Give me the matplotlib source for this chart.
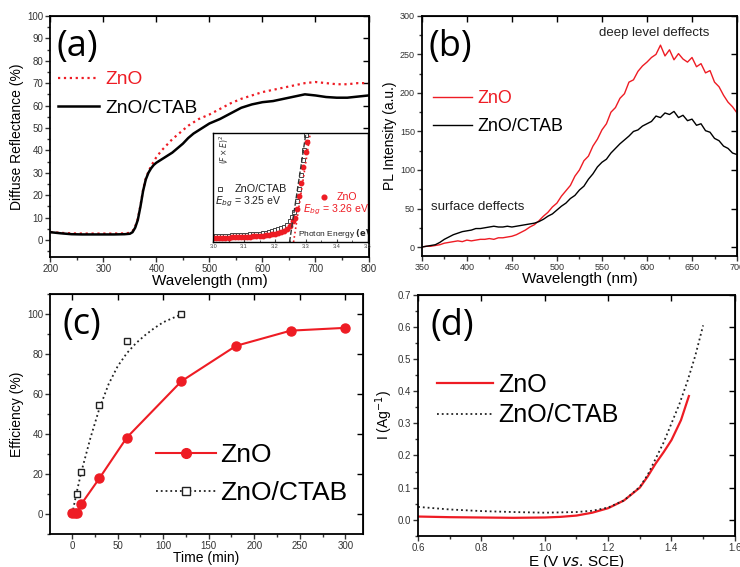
import numpy as np
import matplotlib
matplotlib.use("Agg")
import matplotlib.pyplot as plt
from matplotlib.ticker import MultipleLocator

plt.rcParams["font.family"] = ["Liberation Sans", "DejaVu Sans"]

# ---------------- (a) diffuse reflectance ----------------
wl_a = [200, 220, 240, 260, 280, 300, 320, 340, 350, 355, 360, 365, 370, 375, 380,
        385, 390, 395, 400, 410, 420, 430, 440, 450, 460, 470, 480, 490, 500, 520,
        540, 560, 580, 600, 620, 640, 660, 680, 700, 720, 740, 760, 780, 800]
refl_zno = [3.6, 3.2, 3.0, 2.9, 2.9, 2.9, 2.9, 3.0, 3.2, 4.0, 6.0, 9.5, 15.5, 22.5, 27.5,
            30.5, 33.0, 35.0, 37.0, 40.0, 42.5, 45.0, 47.0, 49.0, 51.0, 52.5, 54.0, 55.0, 56.0, 58.5,
            61.0, 63.0, 64.5, 66.0, 67.0, 68.0, 69.0, 70.0, 70.5, 70.0, 69.5, 69.5, 70.0, 70.0]
refl_ctab = [3.5, 3.0, 2.6, 2.5, 2.5, 2.5, 2.5, 2.6, 2.8, 3.5, 5.5, 9.0, 15.0, 22.0, 27.0,
             30.0, 32.0, 33.5, 34.5, 36.0, 37.5, 39.0, 41.0, 43.0, 45.5, 47.5, 49.0, 50.5, 52.0, 54.0,
             56.5, 59.0, 60.5, 61.5, 62.0, 63.0, 64.0, 65.0, 64.5, 63.8, 63.5, 63.5, 64.0, 64.5]

# inset: Tauc plot
e_ctab = [3.00, 3.01, 3.02, 3.03, 3.04, 3.05, 3.06, 3.07, 3.08, 3.09, 3.10, 3.11, 3.12, 3.13,
          3.14, 3.15, 3.16, 3.17, 3.18, 3.19, 3.20, 3.21, 3.22, 3.23, 3.24, 3.25, 3.255, 3.262,
          3.27, 3.277, 3.283, 3.29, 3.295, 3.30]
f_ctab = [0.055, 0.056, 0.057, 0.058, 0.059, 0.060, 0.061, 0.062, 0.063, 0.065, 0.067, 0.069, 0.071, 0.073,
          0.076, 0.079, 0.083, 0.087, 0.092, 0.099, 0.107, 0.117, 0.128, 0.142, 0.160, 0.195, 0.23, 0.28,
          0.38, 0.49, 0.62, 0.75, 0.85, 0.98]
e_zno = [3.00, 3.01, 3.02, 3.03, 3.04, 3.05, 3.06, 3.07, 3.08, 3.09, 3.10, 3.11, 3.12, 3.13,
         3.14, 3.15, 3.16, 3.17, 3.18, 3.19, 3.20, 3.21, 3.22, 3.23, 3.24, 3.25, 3.258, 3.265,
         3.272, 3.278, 3.285, 3.29, 3.30, 3.305]
f_zno = [0.037, 0.038, 0.039, 0.040, 0.041, 0.042, 0.043, 0.044, 0.045, 0.046, 0.046, 0.048, 0.050, 0.052,
         0.054, 0.056, 0.059, 0.062, 0.066, 0.071, 0.076, 0.083, 0.091, 0.101, 0.120, 0.150, 0.19, 0.22,
         0.30, 0.42, 0.54, 0.69, 0.83, 0.92]
fit_ctab_x = [3.247, 3.300]
fit_zno_x = [3.260, 3.314]
fit_y = [0.0, 1.0]

# ---------------- (b) photoluminescence ----------------
wl_b = list(range(350, 701, 5))
pl_zno = [0, 1, 1, 2, 3, 5, 6, 7, 8, 7, 9, 8, 9, 10, 10, 11, 10, 12, 12, 13,
          14, 16, 19, 22, 26, 29, 34, 40, 45, 52, 57, 66, 73, 80, 92, 100, 112, 118, 131, 140,
          152, 160, 175, 181, 193, 199, 214, 217, 228, 235, 240, 246, 250, 262, 248, 256, 243, 251, 244, 240,
          246, 234, 238, 226, 229, 214, 208, 197, 188, 182, 174]
pl_ctab = [0, 1, 2, 3, 6, 10, 13, 16, 18, 20, 21, 22, 24, 24, 25, 26, 27, 26, 26, 27,
           26, 27, 28, 29, 30, 31, 33, 36, 40, 43, 48, 53, 57, 63, 67, 74, 79, 88, 95, 104,
           110, 114, 122, 128, 134, 139, 144, 150, 152, 157, 160, 163, 170, 168, 174, 172, 176, 168, 171, 164,
           166, 158, 160, 151, 149, 141, 138, 131, 128, 122, 120]

# ---------------- (c) degradation efficiency ----------------
t_zno = [0, 3, 5, 10, 30, 60, 120, 180, 240, 300]
eff_zno = [0.5, 0.5, 0.5, 5, 18, 38.3, 66.5, 84.2, 91.8, 93.2]
t_ctab = [0, 2, 5, 10, 30, 60, 120]
eff_ctab = [0.5, 0.5, 10.2, 21.3, 54.5, 86.5, 100]
t_ctab_fit = [0, 5, 10, 20, 30, 40, 50, 60, 70, 80, 90, 100, 110, 120]
eff_ctab_fit = [0, 11, 21, 38, 53, 65, 74, 80.5, 85.5, 89.5, 93, 96, 98, 100]

# ---------------- (d) linear sweep ----------------
e_d_zno = [0.6, 0.7, 0.8, 0.9, 1.0, 1.05, 1.1, 1.15, 1.2, 1.25, 1.3, 1.325, 1.35, 1.375,
           1.4, 1.43, 1.455]
i_d_zno = [0.010, 0.008, 0.007, 0.006, 0.007, 0.009, 0.013, 0.022, 0.036, 0.060, 0.100, 0.135, 0.175, 0.210,
           0.248, 0.310, 0.385]
e_d_ctab = [0.6, 0.7, 0.8, 0.9, 1.0, 1.1, 1.15, 1.2, 1.25, 1.3, 1.325, 1.35, 1.375, 1.4,
            1.425, 1.45, 1.475, 1.5]
i_d_ctab = [0.040, 0.032, 0.027, 0.024, 0.022, 0.024, 0.028, 0.038, 0.060, 0.102, 0.140, 0.190, 0.240, 0.300,
            0.360, 0.430, 0.510, 0.605]

RED = "#ee1c24"


def style_axes(ax, fs=7):
    for s in ax.spines.values():
        s.set_linewidth(1.3)
    ax.tick_params(which="both", direction="out", labelsize=fs, colors="#333333",
                   width=1.0, pad=1.5)
    ax.tick_params(which="major", length=3.5)
    ax.tick_params(which="minor", length=2)
    ax.tick_params(which="both", top=False, right=False)
    ax2 = ax.secondary_xaxis("top")
    ax2.tick_params(direction="in", length=4, labeltop=False, width=1.0)
    ax2.set_xticks(ax.get_xticks())
    ax3 = ax.secondary_yaxis("right")
    ax3.tick_params(direction="in", length=4, labelright=False, width=1.0)
    ax3.set_yticks(ax.get_yticks())


fig = plt.figure(figsize=(7.4, 5.67), dpi=100)

# ---- (a)
ax = fig.add_axes([0.068, 0.547, 0.430, 0.425])
ax.plot(wl_a, refl_zno, ":", color=RED, lw=1.6, label="ZnO")
ax.plot(wl_a, refl_ctab, "-", color="black", lw=1.8, label="ZnO/CTAB")
ax.set_xlim(200, 800)
ax.set_ylim(-7.5, 100)
ax.set_xticks(np.arange(200, 801, 100))
ax.set_yticks(np.arange(0, 101, 10))
ax.xaxis.set_minor_locator(MultipleLocator(50))
ax.yaxis.set_minor_locator(MultipleLocator(5))
style_axes(ax)
ax.set_xlabel("Wavelength (nm)", fontsize=11, labelpad=0)
ax.set_ylabel("Diffuse Reflectance (%)", fontsize=10, labelpad=2)
ax.text(0.02, 0.835, "(a)", transform=ax.transAxes, fontsize=26, family="Open Sans")
ax.legend(loc="upper left", bbox_to_anchor=(0.025, 0.772), frameon=False, fontsize=13.8,
          handlelength=2.1, handletextpad=0.35, labelspacing=0.6, borderpad=0,
          borderaxespad=0, labelcolor="linecolor")

ins = fig.add_axes([0.288, 0.573, 0.209, 0.192])
ins.plot(e_ctab, f_ctab, "s", ms=3, mfc="white", mec="#444444", mew=0.7)
ins.plot(e_zno, f_zno, "o", ms=3.2, color=RED, mec=RED)
ins.plot(fit_ctab_x, fit_y, "--", color="#333333", lw=1.0)
ins.plot(fit_zno_x, fit_y, ":", color=RED, lw=1.2)
ins.set_xlim(3.0, 3.5)
ins.set_ylim(0, 1)
ins.set_xticks(np.arange(3.0, 3.51, 0.1))
ins.set_xticklabels(["3.0", "3.1", "3.2", "3.3", "3.4", "3.5"])
ins.xaxis.set_minor_locator(MultipleLocator(0.05))
ins.set_yticks([])
for s in ins.spines.values():
    s.set_linewidth(1.0)
ins.tick_params(which="both", direction="in", labelsize=4, colors="#444444", pad=1.5)
ins.tick_params(which="major", length=2.5)
ins.tick_params(which="minor", length=1.5)
ins.plot([3.023], [0.49], "s", ms=3, mfc="white", mec="#444444", mew=0.7)
ins.text(3.07, 0.49, "ZnO/CTAB", fontsize=7.8, va="center", color="#222222")
ins.text(3.005, 0.37, r"$E_{bg}$ = 3.25 eV", fontsize=7.6, va="center", color="#222222")
ins.plot([3.357], [0.41], "o", ms=3.4, color=RED)
ins.text(3.40, 0.41, "ZnO", fontsize=7.6, va="center", color=RED)
ins.text(3.29, 0.30, r"$E_{bg}$ = 3.26 eV", fontsize=7.6, va="center", color=RED,
         clip_on=True)
ins.text(3.275, 0.075, "Photon Energy $\\bf{(eV)}$", fontsize=6, va="center",
         color="#222222", clip_on=True)
ins.text(3.035, 0.85, r"$(F\times E)^2$", fontsize=5.5, rotation=90, va="center",
         ha="center", color="#333333")

# ---- (b)
ax = fig.add_axes([0.570, 0.548, 0.426, 0.424])
ax.plot(wl_b, pl_zno, "-", color=RED, lw=1.0, label="ZnO")
ax.plot(wl_b, pl_ctab, "-", color="black", lw=1.0, label="ZnO/CTAB")
ax.set_xlim(350, 700)
ax.set_ylim(-12, 300)
ax.set_xticks(np.arange(350, 701, 50))
ax.set_yticks(np.arange(0, 301, 50))
ax.xaxis.set_minor_locator(MultipleLocator(25))
ax.yaxis.set_minor_locator(MultipleLocator(25))
style_axes(ax, fs=6.5)
ax.set_xlabel("Wavelength (nm)", fontsize=11, labelpad=0)
ax.set_ylabel("PL Intensity (a.u.)", fontsize=10, labelpad=2)
ax.text(0.02, 0.835, "(b)", transform=ax.transAxes, fontsize=26, family="Open Sans")
ax.text(547, 278, "deep level deffects", fontsize=9.5, va="center", color="#222222")
ax.text(360, 52, "surface deffects", fontsize=9.5, va="center", color="#222222")
ax.legend(loc="upper left", bbox_to_anchor=(0.035, 0.69), frameon=False, fontsize=12.9,
          handlelength=2.2, handletextpad=0.3, labelspacing=0.6, borderpad=0,
          borderaxespad=0, labelcolor="linecolor")

# ---- (c)
ax = fig.add_axes([0.068, 0.058, 0.422, 0.423])
ax.plot(t_ctab_fit, eff_ctab_fit, ":", color="#222222", lw=1.3)
ax.plot(t_ctab, eff_ctab, "s", ms=5, mfc="white", mec="#222222", mew=1.0)
ax.plot(t_zno, eff_zno, "-o", color=RED, ms=6.5, lw=1.5)
ax.plot([], [], "-o", color=RED, ms=7, lw=1.5, label="ZnO")
ax.plot([], [], ":s", color="#222222", ms=5.5, mfc="white", lw=1.3, label="ZnO/CTAB")
ax.set_xlim(-24, 319)
ax.set_ylim(-10, 110)
ax.set_xticks(np.arange(0, 301, 50))
ax.set_yticks(np.arange(0, 101, 20))
ax.xaxis.set_minor_locator(MultipleLocator(25))
ax.yaxis.set_minor_locator(MultipleLocator(10))
style_axes(ax)
ax.set_xlabel("Time (min)", fontsize=10, labelpad=0)
ax.set_ylabel("Efficiency (%)", fontsize=10, labelpad=2)
ax.text(0.04, 0.835, "(c)", transform=ax.transAxes, fontsize=26, family="Open Sans")
handles, labels = ax.get_legend_handles_labels()
ax.legend(handles, labels, loc="upper left", bbox_to_anchor=(0.34, 0.379), frameon=False,
          fontsize=19, handlelength=2.27, handletextpad=0.15, labelspacing=0.54,
          borderpad=0, borderaxespad=0)

# ---- (d)
ax = fig.add_axes([0.565, 0.055, 0.428, 0.425])
ax.plot(e_d_zno, i_d_zno, "-", color=RED, lw=1.6, label="ZnO")
ax.plot(e_d_ctab, i_d_ctab, ":", color="#222222", lw=1.3, label="ZnO/CTAB")
ax.set_xlim(0.6, 1.6)
ax.set_ylim(-0.05, 0.7)
ax.set_xticks(np.arange(0.6, 1.61, 0.2))
ax.set_yticks(np.arange(0, 0.71, 0.1))
ax.xaxis.set_minor_locator(MultipleLocator(0.1))
ax.yaxis.set_minor_locator(MultipleLocator(0.05))
style_axes(ax)
ax.set_xlabel(r"E (V $\it{vs}$. SCE)", fontsize=11, labelpad=0)
ax.set_ylabel(r"I (Ag$^{-1}$)", fontsize=10, labelpad=2)
ax.text(0.04, 0.835, "(d)", transform=ax.transAxes, fontsize=26, family="Open Sans")
ax.legend(loc="upper left", bbox_to_anchor=(0.06, 0.676), frameon=False, fontsize=18,
          handlelength=2.24, handletextpad=0.2, labelspacing=0.26, borderpad=0,
          borderaxespad=0)

fig.savefig("out.png", dpi=100)
